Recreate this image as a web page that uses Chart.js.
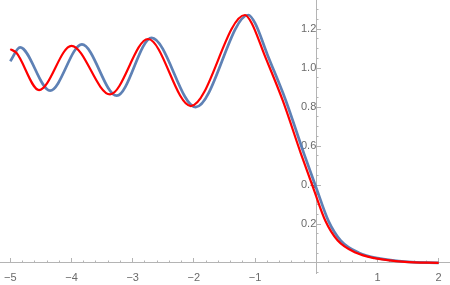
<!DOCTYPE html>
<html>
<head>
<meta charset="utf-8">
<script src="https://cdn.jsdelivr.net/npm/chart.js@4/dist/chart.umd.min.js"></script>
<style>
  html, body { margin: 0; padding: 0; background: #fff; }
  #wrap { width: 450px; height: 285px; }
</style>
</head>
<body>
<div id="wrap"><canvas id="chart" width="450" height="285"></canvas></div>
<script>
// values (extrema of the wiggles, then the fall-off)
const blueX = [-5.0, -4.84, -4.35, -3.83, -3.26, -2.69, -1.97, -1.11, -1.0, -0.8, -0.5, -0.2, 0.0, 0.2, 0.4, 0.7, 1.0, 1.5, 2.0];
const blueY = [1.035, 1.106, 0.884, 1.121, 0.858, 1.155, 0.800, 1.272, 1.23, 1.07, 0.835, 0.56, 0.385, 0.215, 0.115, 0.052, 0.025, 0.006, 0.001];
const redX = [-5.0, -4.9, -4.53, -4.0, -3.37, -2.75, -2.05, -1.165, -1.055, -0.85, -0.55, -0.25, -0.05, 0.15, 0.35, 0.65, 0.95, 1.45, 2.0];
const redY = [1.097, 1.078, 0.887, 1.114, 0.865, 1.149, 0.805, 1.272, 1.23, 1.07, 0.835, 0.56, 0.385, 0.215, 0.115, 0.052, 0.025, 0.006, 0.001];

const xRange = [-5.168, 2.185];
const yRange = [-0.0513, 1.349];
const xMajorStep = 1, xMinorStep = 0.2;
const yMajorStep = 0.2, yMinorStep = 0.05;

const axisColor = '#b4b4b4';
const labelColor = '#6b6b6b';
const labelFont = { family: 'Liberation Sans, Arial, sans-serif', size: 11 };

const toPoints = (xs, ys) => xs.map((x, i) => ({ x, y: ys[i] }));

const fmtX = v => {
    if (Math.abs(v) < 1e-9) return '';
    return v < 0 ? '\u2212' + Math.abs(v) : String(v);
};
const fmtY = v => (Math.abs(v) < 1e-9 ? '' : v.toFixed(1));

// axes sit inside the plot, so they must not eat any layout room
const noRoom = s => {
    if (s.isHorizontal()) s.height = 0; else s.width = 0;
    s.paddingLeft = s.paddingRight = s.paddingTop = s.paddingBottom = 0;
};

// axes cross at the origin; negative tick length turns the marks inwards
const axisBase = (axis, range, step, tickLen) => ({
    type: 'linear',
    axis,
    min: range[0],
    max: range[1],
    position: axis === 'x' ? { y: 0 } : { x: 0 },
    grid: { drawOnChartArea: false, drawTicks: true, tickLength: tickLen, color: axisColor, tickColor: axisColor },
    border: { display: false },
    ticks: { stepSize: step, includeBounds: false, display: false },
    afterFit: noRoom
});

const xMajor = axisBase('x', xRange, xMajorStep, -5);
xMajor.border = { display: true, color: axisColor, width: 1 };
xMajor.ticks = { stepSize: xMajorStep, includeBounds: false, display: true, callback: fmtX, color: labelColor, font: labelFont, padding: 13, maxRotation: 0, autoSkip: false };

const yMajor = axisBase('y', yRange, yMajorStep, -5);
yMajor.border = { display: true, color: axisColor, width: 1 };
yMajor.ticks = { stepSize: yMajorStep, includeBounds: false, display: true, callback: fmtY, color: labelColor, font: labelFont, padding: 9, autoSkip: false };

new Chart(document.getElementById('chart'), {
    type: 'line',
    data: {
        datasets: [
            {
                label: 'red',
                data: toPoints(redX, redY),
                borderColor: '#ff0000',
                borderWidth: 2.2,
                pointRadius: 0,
                cubicInterpolationMode: 'monotone',
                fill: false,
                order: 0
            },
            {
                label: 'blue',
                data: toPoints(blueX, blueY),
                borderColor: '#5e81b5',
                borderWidth: 2.7,
                pointRadius: 0,
                cubicInterpolationMode: 'monotone',
                fill: false,
                order: 1
            }
        ]
    },
    options: {
        responsive: false,
        animation: false,
        layout: { autoPadding: false, padding: { left: 0, right: 0, top: 0, bottom: 12 } },
        plugins: { legend: { display: false }, tooltip: { enabled: false } },
        scales: {
            x: xMajor,
            xMinor: axisBase('x', xRange, xMinorStep, -2.5),
            y: yMajor,
            yMinor: axisBase('y', yRange, yMinorStep, -2.5)
        }
    }
});
</script>
</body>
</html>
